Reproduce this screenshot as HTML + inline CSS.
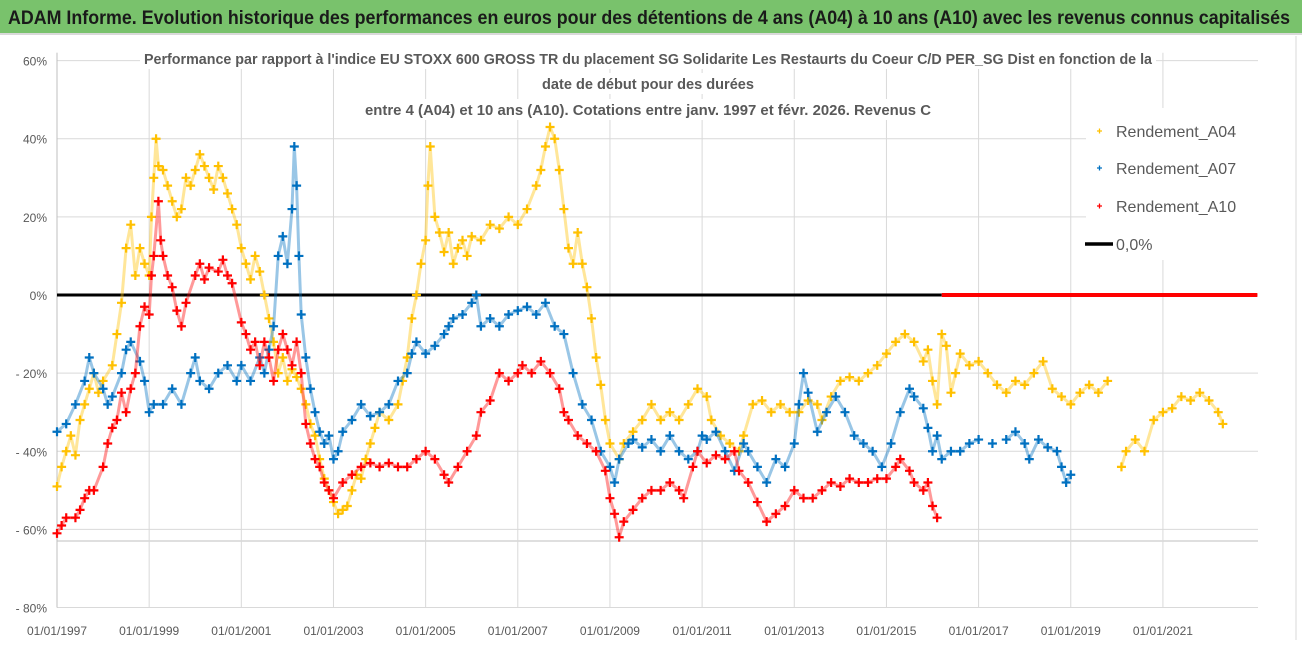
<!DOCTYPE html>
<html><head><meta charset="utf-8"><style>
body{margin:0;background:#fff;}
#wrap{position:relative;width:1302px;height:647px;overflow:hidden;font-family:"Liberation Sans",sans-serif;}
#hdr{position:absolute;left:0;top:0;width:1302px;height:33px;background:#79c26c;border-bottom:2px solid #d9d9d9;}
</style></head><body>
<div id="wrap">
<div id="hdr"><svg width="1302" height="33" style="position:absolute;left:0;top:0"><text x="8" y="24" font-size="19" font-weight="bold" fill="#1a1a1a" font-family="Liberation Sans, sans-serif" textLength="1282" lengthAdjust="spacingAndGlyphs">ADAM Informe. Evolution historique des performances en euros pour des détentions de 4 ans (A04) à 10 ans (A10) avec les revenus connus capitalisés</text></svg></div>
<svg id="chart" width="1302" height="647" style="position:absolute;left:0;top:0"></svg>
</div>
<script>
const yTicks=[60,40,20,0,-20,-40,-60,-80];
const xTickYears=[1997,1999,2001,2003,2005,2007,2009,2011,2013,2015,2017,2019,2021];
const xTickLabels=["01/01/1997","01/01/1999","01/01/2001","01/01/2003","01/01/2005","01/01/2007","01/01/2009","01/01/2011","01/01/2013","01/01/2015","01/01/2017","01/01/2019","01/01/2021"];
const a04Dates=[1997.0,1997.1,1997.2,1997.3,1997.4,1997.5,1997.6,1997.7,1997.8,1997.9,1998.0,1998.2,1998.3,1998.4,1998.5,1998.6,1998.7,1998.8,1998.9,1999.0,1999.05,1999.1,1999.15,1999.2,1999.3,1999.4,1999.5,1999.6,1999.7,1999.8,1999.9,2000.0,2000.1,2000.2,2000.3,2000.4,2000.5,2000.6,2000.7,2000.8,2000.9,2001.0,2001.1,2001.2,2001.3,2001.4,2001.5,2001.6,2001.7,2001.8,2001.9,2002.0,2002.1,2002.2,2002.3,2002.4,2002.5,2002.6,2002.7,2002.8,2002.9,2003.0,2003.1,2003.2,2003.3,2003.4,2003.5,2003.6,2003.7,2003.8,2003.9,2004.0,2004.2,2004.4,2004.5,2004.6,2004.7,2004.8,2004.9,2005.0,2005.05,2005.1,2005.2,2005.3,2005.4,2005.5,2005.6,2005.7,2005.8,2005.9,2006.0,2006.2,2006.4,2006.6,2006.8,2007.0,2007.2,2007.4,2007.5,2007.6,2007.7,2007.8,2007.9,2008.0,2008.1,2008.2,2008.3,2008.4,2008.5,2008.6,2008.7,2008.8,2008.9,2009.0,2009.2,2009.3,2009.5,2009.7,2009.9,2010.1,2010.3,2010.5,2010.7,2010.9,2011.1,2011.2,2011.4,2011.6,2011.8,2011.9,2012.1,2012.3,2012.5,2012.7,2012.9,2013.1,2013.3,2013.5,2013.6,2013.8,2014.0,2014.2,2014.4,2014.6,2014.8,2015.0,2015.2,2015.4,2015.6,2015.8,2015.9,2016.0,2016.1,2016.2,2016.3,2016.4,2016.5,2016.6,2016.8,2017.0,2017.2,2017.4,2017.6,2017.8,2018.0,2018.2,2018.4,2018.6,2018.8,2019.0,2019.2,2019.4,2019.6,2019.8,2020.1,2020.2,2020.4,2020.6,2020.8,2021.0,2021.2,2021.4,2021.6,2021.8,2022.0,2022.2,2022.3];
const a04Values=[-49,-44,-40,-36,-41,-32,-28,-24,-20,-25,-22,-18,-10,-2,12,18,5,12,8,5,20,30,40,33,32,28,24,20,22,30,28,32,36,33,30,27,33,30,26,22,18,12,8,4,10,6,0,-6,-12,-20,-16,-22,-19,-21,-24,-28,-33,-36,-42,-47,-50,-53,-56,-55,-54,-50,-46,-47,-42,-38,-34,-30,-32,-28,-22,-16,-6,0,8,14,28,38,20,16,11,16,8,12,14,10,15,14,18,17,20,18,22,28,32,38,43,40,32,22,12,8,16,8,2,-6,-16,-23,-32,-38,-42,-38,-35,-32,-28,-32,-30,-32,-28,-24,-26,-32,-36,-38,-40,-36,-28,-27,-30,-28,-30,-30,-27,-28,-32,-26,-22,-21,-22,-20,-18,-15,-12,-10,-12,-17,-14,-22,-28,-10,-13,-25,-20,-15,-18,-17,-20,-23,-25,-22,-23,-20,-17,-24,-26,-28,-25,-23,-25,-22,-44,-40,-37,-40,-32,-30,-29,-26,-27,-25,-27,-30,-33];
const a07Dates=[1997.0,1997.2,1997.4,1997.6,1997.7,1997.8,1998.0,1998.1,1998.2,1998.4,1998.5,1998.6,1998.8,1998.9,1999.0,1999.1,1999.3,1999.5,1999.7,1999.9,2000.0,2000.1,2000.3,2000.5,2000.7,2000.9,2001.0,2001.2,2001.4,2001.5,2001.6,2001.7,2001.8,2001.9,2002.0,2002.1,2002.15,2002.2,2002.25,2002.3,2002.4,2002.5,2002.6,2002.7,2002.8,2002.9,2003.0,2003.1,2003.2,2003.4,2003.6,2003.8,2004.0,2004.2,2004.4,2004.6,2004.7,2004.8,2005.0,2005.2,2005.4,2005.5,2005.6,2005.8,2006.0,2006.1,2006.2,2006.4,2006.6,2006.8,2007.0,2007.2,2007.4,2007.6,2007.8,2008.0,2008.2,2008.4,2008.6,2008.8,2009.0,2009.1,2009.2,2009.4,2009.5,2009.7,2009.9,2010.1,2010.3,2010.5,2010.7,2010.9,2011.0,2011.1,2011.3,2011.5,2011.7,2011.9,2012.0,2012.2,2012.4,2012.6,2012.8,2013.0,2013.1,2013.2,2013.3,2013.5,2013.7,2013.9,2014.1,2014.3,2014.5,2014.7,2014.9,2015.1,2015.3,2015.5,2015.6,2015.8,2015.9,2016.0,2016.1,2016.2,2016.4,2016.6,2016.8,2017.0,2017.3,2017.6,2017.8,2018.0,2018.1,2018.3,2018.5,2018.7,2018.8,2018.9,2019.0];
const a07Values=[-35,-33,-28,-22,-16,-20,-24,-28,-26,-20,-14,-12,-17,-22,-30,-28,-28,-24,-28,-20,-16,-22,-24,-20,-18,-22,-18,-22,-16,-20,-14,-8,10,15,8,22,38,28,10,-5,-16,-24,-30,-35,-38,-36,-42,-40,-35,-32,-28,-31,-30,-28,-22,-20,-15,-12,-15,-13,-10,-8,-6,-5,-2,0,-8,-6,-8,-5,-4,-3,-5,-2,-8,-10,-20,-28,-32,-40,-44,-48,-42,-38,-37,-39,-37,-40,-36,-40,-42,-40,-36,-37,-35,-40,-45,-38,-40,-44,-48,-42,-44,-38,-28,-20,-25,-35,-30,-26,-30,-36,-38,-40,-44,-38,-30,-24,-26,-29,-34,-40,-36,-42,-40,-40,-38,-37,-38,-37,-35,-38,-42,-37,-39,-40,-44,-48,-46];
const a10Dates=[1997.0,1997.1,1997.2,1997.4,1997.5,1997.6,1997.7,1997.8,1998.0,1998.1,1998.2,1998.3,1998.4,1998.5,1998.6,1998.7,1998.8,1998.9,1999.0,1999.05,1999.1,1999.2,1999.25,1999.3,1999.4,1999.5,1999.6,1999.7,1999.8,2000.0,2000.1,2000.2,2000.3,2000.5,2000.6,2000.7,2000.8,2001.0,2001.1,2001.2,2001.3,2001.4,2001.5,2001.6,2001.7,2001.8,2001.9,2002.0,2002.1,2002.2,2002.3,2002.4,2002.5,2002.6,2002.7,2002.8,2002.9,2003.0,2003.2,2003.4,2003.6,2003.8,2004.0,2004.2,2004.4,2004.6,2004.8,2005.0,2005.2,2005.4,2005.5,2005.7,2005.9,2006.1,2006.2,2006.4,2006.6,2006.8,2007.0,2007.1,2007.3,2007.5,2007.7,2007.9,2008.0,2008.1,2008.3,2008.5,2008.7,2008.9,2009.0,2009.1,2009.2,2009.3,2009.5,2009.7,2009.9,2010.1,2010.3,2010.5,2010.6,2010.8,2010.9,2011.1,2011.3,2011.5,2011.7,2011.8,2012.0,2012.2,2012.4,2012.6,2012.8,2013.0,2013.2,2013.4,2013.6,2013.8,2014.0,2014.2,2014.4,2014.6,2014.8,2015.0,2015.2,2015.3,2015.5,2015.6,2015.8,2015.9,2016.0,2016.1];
const a10Values=[-61,-59,-57,-57,-55,-52,-50,-50,-44,-38,-34,-32,-25,-30,-24,-20,-8,-3,-5,5,10,24,14,10,5,2,-4,-8,-2,5,8,4,7,6,9,5,3,-7,-10,-14,-12,-18,-12,-16,-22,-14,-10,-14,-18,-12,-20,-33,-38,-42,-44,-48,-50,-52,-48,-46,-44,-43,-44,-43,-44,-44,-42,-40,-42,-46,-48,-44,-40,-36,-30,-27,-20,-22,-20,-18,-20,-17,-20,-24,-30,-32,-36,-38,-40,-45,-52,-56,-62,-58,-55,-52,-50,-50,-48,-50,-52,-44,-40,-43,-41,-42,-40,-45,-48,-53,-58,-56,-54,-50,-52,-52,-50,-48,-49,-47,-48,-48,-47,-47,-44,-42,-45,-48,-50,-48,-54,-57];
const a10ZeroRange=[2016.2,2023.05];
const zeroLineRange=[1997.0,2016.2];

const NS="http://www.w3.org/2000/svg";
const svg=document.getElementById('chart');
const X0=57,PXY=46.08,Y0=295,PXV=3.907;
function xs(d){return X0+(d-1997)*PXY;}
function ys(v){return Y0-v*PXV;}
function mk(tag,attrs,parent){const e=document.createElementNS(NS,tag);for(const k in attrs)e.setAttribute(k,attrs[k]);(parent||svg).appendChild(e);return e;}
const grid=mk('g',{});


yTicks.forEach(v=>{
  const l=mk('line',{x1:X0,x2:1258,y1:ys(v),y2:ys(v),stroke:'#d9d9d9','stroke-width':1},grid);
  
  
  const t=mk('text',{x:47,y:ys(v)+5,'text-anchor':'end','font-size':12,fill:'#595959','font-family':'Liberation Sans, sans-serif'});
  t.textContent=(v<0?'- '+(-v):v)+'%';
  
  
});
const extra=mk('line',{x1:X0,x2:1258,y1:541,y2:541,stroke:'#bfbfbf','stroke-width':1},grid);


xTickYears.forEach((yr,i)=>{
  const l=mk('line',{x1:xs(yr),x2:xs(yr),y1:ys(62),y2:ys(-80),stroke:'#d9d9d9','stroke-width':1},grid);
  
  
  const t=mk('text',{x:xs(yr),y:635,'text-anchor':'middle','font-size':12,fill:'#595959','font-family':'Liberation Sans, sans-serif'});
  t.textContent=xTickLabels[i];
  
  
});
const axisY=mk('line',{x1:X0,x2:X0,y1:ys(62),y2:ys(-80),stroke:'#bfbfbf'});


const frame=mk('line',{x1:1296,x2:1296,y1:36,y2:640,stroke:'#d9d9d9'});


const titleLines=["Performance par rapport à l'indice EU STOXX 600 GROSS TR  du placement SG Solidarite Les Restaurts du Coeur C/D PER_SG Dist en fonction de la","date de début pour des durées","entre 4 (A04) et 10 ans (A10). Cotations entre janv. 1997 et févr. 2026. Revenus C"];
const titleY=[64,89,115];
titleLines.forEach((s,i)=>{
  mk('rect',{x:i==0?140:(i==1?540:360),y:titleY[i]-16,width:i==0?1016:(i==1?222:576),height:21,fill:'#fff'});
  const t=mk('text',{x:648,y:titleY[i],'text-anchor':'middle','font-size':14.5,'font-weight':'bold',fill:'#595959','font-family':'Liberation Sans, sans-serif',textLength:i==0?1008:(i==1?212:566),lengthAdjust:'spacingAndGlyphs'});
  t.textContent=s;
  
  
});
const zl=mk('line',{x1:xs(zeroLineRange[0]),x2:xs(zeroLineRange[1]),y1:ys(0),y2:ys(0),stroke:'#000','stroke-width':3});


function series(dates,vals,color,name){
  const g=mk('g',{});
  
  
  let seg=[];
  const flush=()=>{if(seg.length>1){const p=mk('polyline',{points:seg.join(' '),fill:'none',stroke:color,'stroke-width':3,'stroke-opacity':0.4,'stroke-linejoin':'round'},g);}seg=[];};
  dates.forEach((d,i)=>{
    if(i>0&&d-dates[i-1]>0.25)flush();
    seg.push(xs(d).toFixed(1)+','+ys(vals[i]).toFixed(1));
  });
  flush();
  dates.forEach((d,i)=>{
    const x=xs(d),y=ys(vals[i]);
    const p=mk('path',{d:`M${x-4.5},${y}H${x+4.5}M${x},${y-4.5}V${y+4.5}`,stroke:color,'stroke-width':2.2},g);
    
    
  });
}
series(a04Dates,a04Values,'#ffc000','series-a04');
series(a07Dates,a07Values,'#0070c0','series-a07');
series(a10Dates,a10Values,'#ff0000','series-a10');
const rz=mk('line',{x1:xs(a10ZeroRange[0]),x2:xs(a10ZeroRange[1]),y1:ys(0),y2:ys(0),stroke:'#ff0000','stroke-width':4});


const lg=mk('g',{});


mk('rect',{x:1086,y:108,width:172,height:152,fill:'#fff'},lg);
const legItems=[["Rendement_A04",'#ffc000',137],["Rendement_A07",'#0070c0',174],["Rendement_A10",'#ff0000',212]];
legItems.forEach(it=>{
  const e=mk('g',{},lg);
  
  
  mk('path',{d:`M${1097},${it[2]-6}h5M${1099.5},${it[2]-8.5}v5`,stroke:it[1],'stroke-width':1.3},e);
  const t=mk('text',{x:1116,y:it[2],'font-size':16,fill:'#595959','font-family':'Liberation Sans, sans-serif'},e);
  t.textContent=it[0];
});
const e0=mk('g',{},lg);


mk('line',{x1:1085,x2:1113,y1:244,y2:244,stroke:'#000','stroke-width':3.5},e0);
const t0=mk('text',{x:1116,y:250,'font-size':16,fill:'#595959','font-family':'Liberation Sans, sans-serif'},e0);
t0.textContent='0,0%';
</script>
</body></html>
